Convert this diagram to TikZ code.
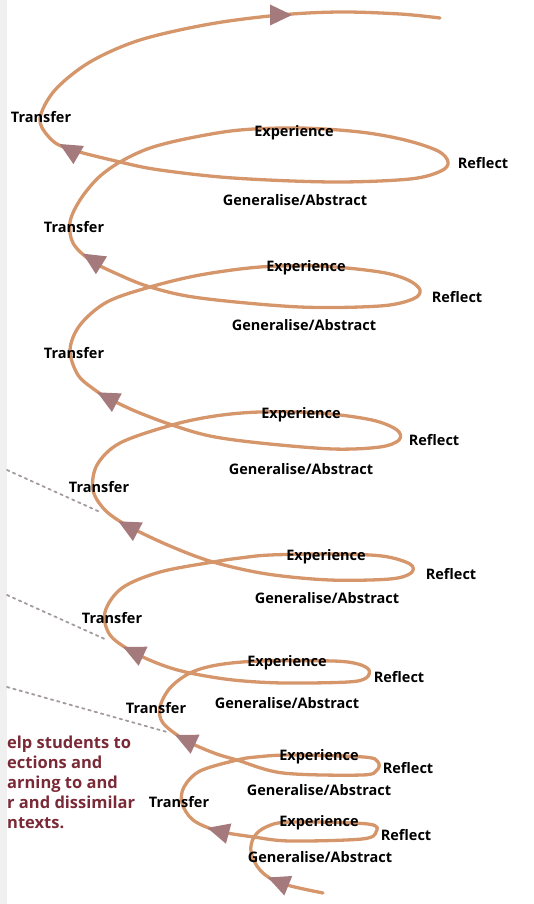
\documentclass[tikz,border=0pt]{standalone}
\usepackage{fontspec}
\setmainfont{Open Sans}
\definecolor{spiralc}{HTML}{D6966B}
\definecolor{tipc}{HTML}{A47A7C}
\definecolor{notec}{HTML}{7A2A36}
\definecolor{dotc}{HTML}{A39AA0}
\newcommand\arrowtip[3]{\fill[tipc,shift={(#1,#2)},rotate=#3] (12,0) -- (-10,10.5) -- (-10,-10.5) -- cycle;}
\begin{document}
\begin{tikzpicture}[x=1pt,y=-1pt,line join=round,line cap=round,
    lab/.style={font=\bfseries\fontsize{14.5}{16}\selectfont,inner sep=0pt},
    spiral/.style={draw=spiralc,line width=3.3pt},
    pointer/.style={draw=dotc,line width=1.8pt,dash pattern=on 2.5pt off 4pt}]
  \useasboundingbox (0,0) rectangle (534,904);
  \fill[gray!12] (0,0) rectangle (7,904);

  % the spiral, from its top end down to its start
  \draw[spiral] plot[smooth,tension=0.55] coordinates {
    (440,18) (400,14) (340,12) (280,15) (210,24) (140,40) (90,62) (55,90)
    (40,118) (48,136) (66,148) (120,162)
    (160,170) (233,178) (333,182) (410,179) (441,171) (448,162) (438,151)
    (405,140) (360,132) (300,128) (240,130) (190,138) (150,148) (120,162)
    (98,178) (80,200) (70,222) (73,243) (90,260) (115,273) (150,287)
    (200,298) (300,307) (380,306) (413,299) (420,290) (408,280) (380,272)
    (320,266) (260,267) (200,275) (150,287)
    (107,302) (80,325) (70,350) (78,375) (95,390) (108,398) (135,411) (172,425)
    (210,436) (260,443) (333,449) (380,447) (399,440) (397,430) (372,420)
    (320,413) (260,412) (215,416) (172,425)
    (120,443) (97,465) (93,490) (105,510) (128,526) (170,546) (213,562)
    (267,574) (330,580) (390,579) (411,573) (410,564) (382,556) (330,554)
    (270,555) (240,558) (213,562)
    (160,572) (122,588) (105,612) (110,635) (133,652) (162,665) (190,673)
    (233,680) (283,683) (348,682) (366,678) (369,670) (358,664) (333,661)
    (260,661) (217,665) (190,673)
    (170,688) (160,707) (163,723) (185,740) (214,753) (237,760)
    (283,773) (362,775) (377,770) (378,762) (364,757) (290,755) (256,757) (237,760)
    (200,771) (184,787) (182,803) (193,820) (218,831) (254,837)
    (290,841) (362,839) (376,832) (368,824) (290,822) (266,827) (254,837)
    (251,852) (260,870) (280,883) (323,893)};

  % arrow heads along the spiral
  \foreach \x/\y/\a in {280/15/0, 70/150/150, 93/260/148, 108/398/152,
      129/527/152, 134/652/155, 186/740/155, 219/831/165, 279/882/158}
    {\arrowtip{\x}{\y}{\a}}

  % pointers from the note
  \draw[pointer] (7,470) -- (100,512);
  \draw[pointer] (7,595) -- (107,640);
  \draw[pointer] (7,687) -- (167,732);

  % labels
  \node[lab] (tr0) at (41,117) {Transfer};
  \node[lab] (tr1) at (74,227) {Transfer};
  \node[lab] (tr2) at (74,353) {Transfer};
  \node[lab] (tr3) at (99,487) {Transfer};
  \node[lab] (tr4) at (112,618) {Transfer};
  \node[lab] (tr5) at (156,708) {Transfer};
  \node[lab] (tr6) at (179,802) {Transfer};

  \node[lab] (ex1) at (294,133) {Experience};
  \node[lab] (ex2) at (306,268) {Experience};
  \node[lab] (ex3) at (301,415) {Experience};
  \node[lab] (ex4) at (326,557) {Experience};
  \node[lab] (ex5) at (287,663) {Experience};
  \node[lab] (ex6) at (319,757) {Experience};
  \node[lab] (ex7) at (319,823) {Experience};

  \node[lab] (re1) at (483,163) {Reflect};
  \node[lab] (re2) at (457,297) {Reflect};
  \node[lab] (re3) at (434,440) {Reflect};
  \node[lab] (re4) at (451,574) {Reflect};
  \node[lab] (re5) at (399,677) {Reflect};
  \node[lab] (re6) at (408,768) {Reflect};
  \node[lab] (re7) at (406,835) {Reflect};

  \node[lab] (ga1) at (295,200) {Generalise/Abstract};
  \node[lab] (ga2) at (304,325) {Generalise/Abstract};
  \node[lab] (ga3) at (301,469) {Generalise/Abstract};
  \node[lab] (ga4) at (327,598) {Generalise/Abstract};
  \node[lab] (ga5) at (287,703) {Generalise/Abstract};
  \node[lab] (ga6) at (319,790) {Generalise/Abstract};
  \node[lab] (ga7) at (320,857) {Generalise/Abstract};

  \node[anchor=north west,align=left,inner sep=0pt,text=notec,
    font=\bfseries\fontsize{16.5}{20}\selectfont] (note) at (7,736)
    {elp students to\\ections and\\arning to and\\r and dissimilar\\ntexts.};
\end{tikzpicture}
\end{document}
